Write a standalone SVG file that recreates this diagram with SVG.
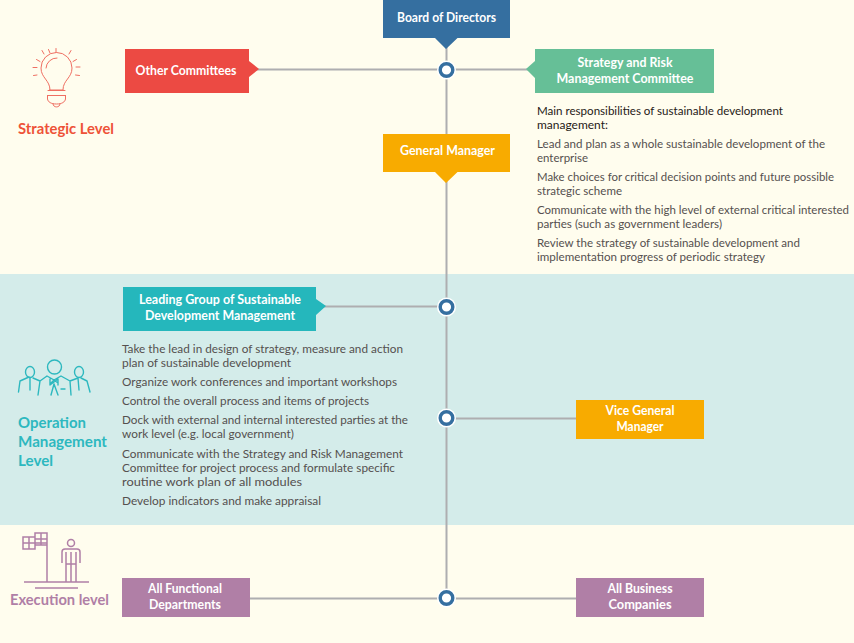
<svg xmlns="http://www.w3.org/2000/svg" width="854" height="643" viewBox="0 0 854 643">
<style>
text{font-family:"Lato","Open Sans","Liberation Sans",sans-serif}
.n{font-size:12.500px;font-weight:700;fill:#fff;text-anchor:middle}
.b{font-size:11.600px;fill:#55504f}
.k{font-size:11.600px;fill:#1f1a17}
.l{font-size:15px;font-weight:700}
.c{stroke:#aeaeb0;stroke-width:2;fill:none}
.w{fill:#fff;stroke:none}
.r{fill:#fff;stroke:#356fa0;stroke-width:3.400}
.i1{fill:none;stroke:#ef6f62;stroke-width:1;stroke-linecap:round}
.i2{fill:none;stroke:#2db8bf;stroke-width:1.400;stroke-linecap:round;stroke-linejoin:round}
.i3{fill:none;stroke:#b07fa6;stroke-width:1.500}
</style>
<rect width="854" height="643" fill="#fffdee"/>
<rect y="274" width="854" height="251" fill="#d4ecea"/>
<g id="connectors">
<path class="c" d="M446.500 38V598"/>
<path class="c" d="M255 69.500H530"/>
<path class="c" d="M322 306.500H446"/>
<path class="c" d="M446 418.500H578"/>
<path class="c" d="M248 598.500H578"/>
</g>
<g id="junctions">
<circle class="w" cx="446.500" cy="70" r="9.500"/><circle class="r" cx="446.500" cy="70" r="6.300"/>
<circle class="w" cx="446.500" cy="307" r="9.500"/><circle class="r" cx="446.500" cy="307" r="6.300"/>
<circle class="w" cx="446.500" cy="418" r="9.500"/><circle class="r" cx="446.500" cy="418" r="6.300"/>
<circle class="w" cx="446.500" cy="598" r="9.500"/><circle class="r" cx="446.500" cy="598" r="6.300"/>
</g>
<g id="board">
<path fill="#356fa0" d="M383 0H510V38H457.500L446 49L435 38H383Z"/>
<text class="n" x="446.500" y="22" textLength="99" lengthAdjust="spacingAndGlyphs">Board of Directors</text>
</g>
<g id="other-committees">
<path fill="#ec4a43" d="M125 49H249V61L259 69L249 77V93H125Z"/>
<text class="n" x="186" y="75" textLength="101" lengthAdjust="spacingAndGlyphs">Other Committees</text>
</g>
<g id="strategy-risk">
<path fill="#66bf97" d="M535 49H714V93H535V78L526 69L535 61Z"/>
<text class="n" x="625" y="67" textLength="95" lengthAdjust="spacingAndGlyphs">Strategy and Risk</text>
<text class="n" x="625" y="83" textLength="137" lengthAdjust="spacingAndGlyphs">Management Committee</text>
</g>
<g id="general-manager">
<path fill="#f8ab00" d="M383 134H510V172H457.500L446 183L435 172H383Z"/>
<text class="n" x="447.500" y="155" textLength="95" lengthAdjust="spacingAndGlyphs">General Manager</text>
</g>
<g id="leading-group">
<path fill="#25b7bc" d="M123 287H316V299L326 306L316 315V331H123Z"/>
<text class="n" x="220" y="304" textLength="162" lengthAdjust="spacingAndGlyphs">Leading Group of Sustainable</text>
<text class="n" x="220" y="320" textLength="150" lengthAdjust="spacingAndGlyphs">Development Management</text>
</g>
<g id="vice-gm">
<rect x="576" y="400" width="128" height="39" fill="#f8ab00"/>
<text class="n" x="640" y="415" textLength="69" lengthAdjust="spacingAndGlyphs">Vice General</text>
<text class="n" x="640" y="431" textLength="47" lengthAdjust="spacingAndGlyphs">Manager</text>
</g>
<g id="functional">
<rect x="122" y="578" width="128" height="39" fill="#b07fa6"/>
<text class="n" x="185" y="593" textLength="74" lengthAdjust="spacingAndGlyphs">All Functional</text>
<text class="n" x="185" y="609" textLength="72" lengthAdjust="spacingAndGlyphs">Departments</text>
</g>
<g id="business">
<rect x="576" y="578" width="128" height="39" fill="#b07fa6"/>
<text class="n" x="640" y="593" textLength="65" lengthAdjust="spacingAndGlyphs">All Business</text>
<text class="n" x="640" y="609" textLength="63" lengthAdjust="spacingAndGlyphs">Companies</text>
</g>
<g id="strategic-text">
<text class="k" x="537" y="115" textLength="246" lengthAdjust="spacingAndGlyphs">Main responsibilities of sustainable development</text>
<text class="k" x="537" y="129" textLength="71" lengthAdjust="spacingAndGlyphs">management:</text>
<text class="b" x="537" y="148" textLength="288" lengthAdjust="spacingAndGlyphs">Lead and plan as a whole sustainable development of the</text>
<text class="b" x="537" y="162" textLength="51" lengthAdjust="spacingAndGlyphs">enterprise</text>
<text class="b" x="537" y="181" textLength="297" lengthAdjust="spacingAndGlyphs">Make choices for critical decision points and future possible</text>
<text class="b" x="537" y="195" textLength="85" lengthAdjust="spacingAndGlyphs">strategic scheme</text>
<text class="b" x="537" y="214" textLength="312" lengthAdjust="spacingAndGlyphs">Communicate with the high level of external critical interested</text>
<text class="b" x="537" y="228" textLength="185" lengthAdjust="spacingAndGlyphs">parties (such as government leaders)</text>
<text class="b" x="537" y="247" textLength="263" lengthAdjust="spacingAndGlyphs">Review the strategy of sustainable development and</text>
<text class="b" x="537" y="261" textLength="228" lengthAdjust="spacingAndGlyphs">implementation progress of periodic strategy</text>
</g>
<g id="operation-text">
<text class="b" x="122" y="353" textLength="281" lengthAdjust="spacingAndGlyphs">Take the lead in design of strategy, measure and action</text>
<text class="b" x="122" y="367" textLength="169" lengthAdjust="spacingAndGlyphs">plan of sustainable development</text>
<text class="b" x="122" y="386" textLength="275" lengthAdjust="spacingAndGlyphs">Organize work conferences and important workshops</text>
<text class="b" x="122" y="405" textLength="247" lengthAdjust="spacingAndGlyphs">Control the overall process and items of projects</text>
<text class="b" x="122" y="424" textLength="286" lengthAdjust="spacingAndGlyphs">Dock with external and internal interested parties at the</text>
<text class="b" x="122" y="438" textLength="172" lengthAdjust="spacingAndGlyphs">work level (e.g. local government)</text>
<text class="b" x="122" y="458" textLength="281" lengthAdjust="spacingAndGlyphs">Communicate with the Strategy and Risk Management</text>
<text class="b" x="122" y="472" textLength="273" lengthAdjust="spacingAndGlyphs">Committee for project process and formulate specific</text>
<text class="b" x="122" y="486" textLength="180" lengthAdjust="spacingAndGlyphs">routine work plan of all modules</text>
<text class="b" x="122" y="505" textLength="199" lengthAdjust="spacingAndGlyphs">Develop indicators and make appraisal</text>
</g>
<g id="strategic-level">
<path class="i1" d="M50 90C50 80 41 78 41 68A15.500 15.500 0 1 1 72 68C72 78 63 80 63 90H50ZM46 68A10.500 10.500 0 0 1 57 58M48 90.500H65M47.500 95.500H65.500M47.500 95.500V99C48 102 51 104 56.500 104C62 104 65 102 65.500 99V95.500M53 104C53 108 60 108 60 104"/>
<path class="i1" d="M56 48.500V52.500M42 50.500L44 54M48.500 49.500L50 53M71 50.500L69 54M36.500 59.500L40 61.500M76.500 59.500L73 61.500M33 67.500H37M76 67H80M33.500 75.500L37 75M75.500 75L79.500 75.500"/>
<text class="l" x="18" y="134" fill="#ee5238" textLength="96" lengthAdjust="spacingAndGlyphs">Strategic Level</text>
</g>
<g id="operation-level">
<circle class="i2" cx="54.500" cy="367" r="7"/>
<ellipse class="i2" cx="30" cy="372" rx="4.500" ry="5.500"/>
<ellipse class="i2" cx="79" cy="372" rx="4.500" ry="5.500"/>
<path class="i2" d="M18.500 392L20 381L29 377M30 378L30 390M33 378L40 381M38 395L40 381L47 376L54 380L61 376L70 381L71 395M51 383L54 380L58 383M51 395L54 384L58 395M61 389H65M70 381L78 378L79 390M81 378L87 381L90 392M50 379V385L58 379V385"/>
<text class="l" x="18" y="428" fill="#2db8bf" textLength="68" lengthAdjust="spacingAndGlyphs">Operation</text>
<text class="l" x="18" y="447" fill="#2db8bf" textLength="89" lengthAdjust="spacingAndGlyphs">Management</text>
<text class="l" x="18" y="466" fill="#2db8bf" textLength="35" lengthAdjust="spacingAndGlyphs">Level</text>
</g>
<g id="execution-level">
<path class="i3" d="M24 582H89M35 588H78M47 582V533H35V537H23V549H35V545H47M35 533V545M29 537V549M23 543H47M35 539H47M41 533V545"/>
<circle class="i3" cx="71" cy="543" r="3.500"/>
<path class="i3" d="M62 563V552Q62 549 65 549H77Q80 549 80 552V563M66 552V582M76 552V582M71 552V582M66 564H76"/>
<text class="l" x="10" y="605" fill="#b07fa6" textLength="99" lengthAdjust="spacingAndGlyphs">Execution level</text>
</g>
</svg>
